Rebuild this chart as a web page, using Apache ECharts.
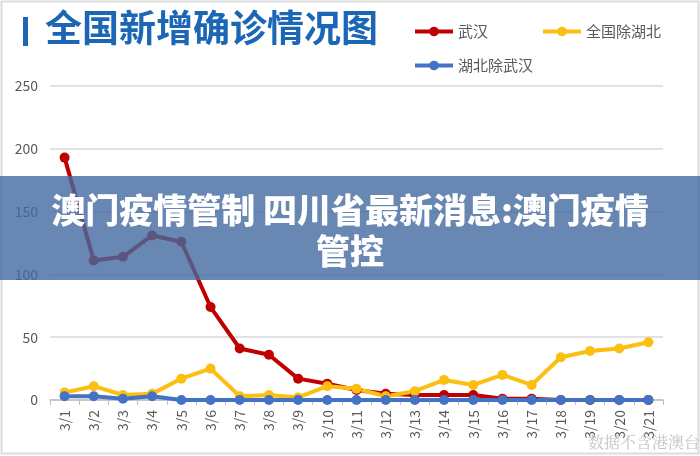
<!DOCTYPE html>
<html>
<head>
<meta charset="utf-8">
<script src="https://cdn.jsdelivr.net/npm/echarts@6/dist/echarts.min.js"></script>
<style>html,body{margin:0;padding:0;background:#fff}#c{width:700px;height:456px}</style>
</head>
<body>
<div id="c"></div>
<script>
var categories = ['3/1','3/2','3/3','3/4','3/5','3/6','3/7','3/8','3/9','3/10','3/11','3/12','3/13','3/14','3/15','3/16','3/17','3/18','3/19','3/20','3/21'];
var wuhan = [193,111,114,131,126,74,41,36,17,13,8,5,4,4,4,1,1,0,0,0,0];
var outsideHubei = [6,11,4,5,17,25,3,4,2,11,9,3,7,16,12,20,12,34,39,41,46];
var hubeiExWuhan = [3,3,1,3,0,0,0,0,0,0,0,0,0,0,0,0,0,0,0,0,0];
var yTicks = {min:0, max:250, interval:50};
var titleText = '全国新增确诊情况图';
var bannerLine1 = '澳门疫情管制 四川省最新消息:澳门疫情';
var bannerLine2 = '管控';
var watermark = '数据不含港澳台';

var FONT = '"Noto Sans CJK SC", "Noto Sans", sans-serif';
var chart = echarts.init(document.getElementById('c'));
function ser(name, data, color){
  return {name:name, type:'line', data:data, symbol:'circle', symbolSize:10,
    lineStyle:{width:4, color:color}, itemStyle:{color:color}, emphasis:{disabled:true}};
}
var legendCommon = {itemWidth:38, itemHeight:12, lineStyle:{width:4},
  textStyle:{color:'#595959', fontSize:15, fontFamily:FONT}};
chart.setOption({
  animation:false,
  grid:{left:50, right:37, top:86, bottom:56},
  legend:[
    Object.assign({left:408, top:19, itemGap:53, data:['武汉','全国除湖北']}, legendCommon),
    Object.assign({left:408, top:53, data:['湖北除武汉']}, legendCommon)
  ],
  xAxis:{type:'category', data:categories, boundaryGap:true,
    axisLine:{lineStyle:{color:'#bfbfbf', width:1.5}},
    axisTick:{show:true, length:5, lineStyle:{color:'#bfbfbf'}},
    axisLabel:{rotate:90, color:'#595959', fontSize:14, fontFamily:FONT, margin:10}},
  yAxis:{type:'value', min:yTicks.min, max:yTicks.max, interval:yTicks.interval,
    axisLine:{show:false}, axisTick:{show:false},
    splitLine:{lineStyle:{color:'#d9d9d9', width:1.5}},
    axisLabel:{color:'#595959', fontSize:14, fontFamily:FONT, margin:12}},
  series:[
    ser('武汉', wuhan, '#c00000'),
    ser('全国除湖北', outsideHubei, '#fbbf12'),
    ser('湖北除武汉', hubeiExWuhan, '#4472c4')
  ],
  graphic:[
    {type:'rect', shape:{x:1.5, y:1.5, width:697, height:452}, style:{fill:'none', stroke:'#dcdcdc', lineWidth:2}, z:0},
    {type:'rect', shape:{x:23, y:17, width:5, height:29}, style:{fill:'#1b67b6'}, z:10},
    {type:'text', left:45, top:9, style:{text:titleText, fill:'#1b67b6', font:'bold 37px ' + FONT}, z:10},
    {type:'text', right:0, top:434, style:{text:watermark, fill:'#c4c4c4', font:'16px "Noto Serif CJK SC", serif'}, z:10},
    {type:'rect', shape:{x:0, y:176, width:700, height:104}, style:{fill:'rgba(66,106,160,0.8)'}, z:100},
    {type:'text', x:350, y:210, style:{text:bannerLine1, fill:'#fff', font:'900 34px ' + FONT, align:'center', verticalAlign:'middle'}, z:101},
    {type:'text', x:350, y:251, style:{text:bannerLine2, fill:'#fff', font:'900 34px ' + FONT, align:'center', verticalAlign:'middle'}, z:101}
  ]
});
</script>
</body>
</html>
